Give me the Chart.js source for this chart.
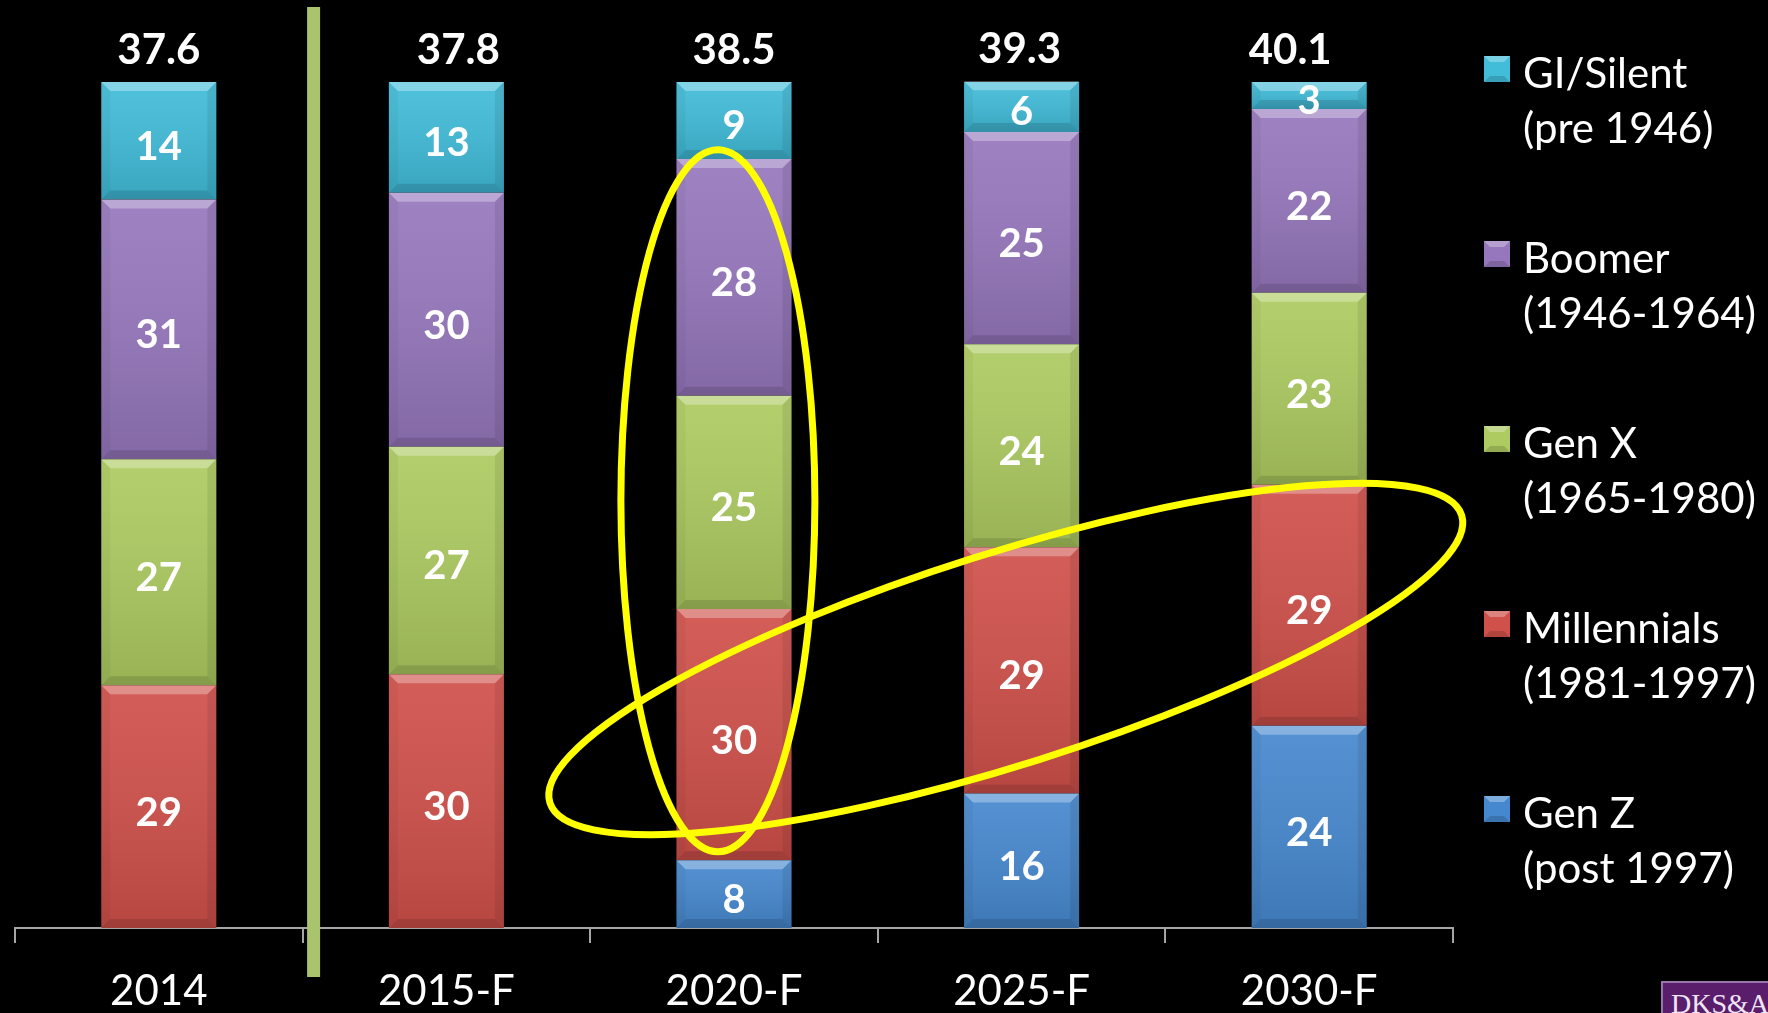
<!DOCTYPE html>
<html><head><meta charset="utf-8">
<script src="https://cdn.jsdelivr.net/npm/chart.js@4.4.1/dist/chart.umd.min.js"></script>
<style>
html,body{margin:0;padding:0;background:#000;overflow:hidden;}
#wrap{position:relative;width:1768px;height:1013px;}
canvas{display:block;}
#logo{position:absolute;left:1661px;top:981px;width:120px;height:40px;background:#5a1d6c;border:2px solid #9a74ad;box-sizing:border-box;color:#efe6f4;font-family:"Liberation Serif","DejaVu Serif",serif;font-size:28px;line-height:42px;padding-left:8px;white-space:nowrap;overflow:hidden;}
</style></head><body>
<div id="wrap"><canvas id="c" width="1768" height="1013"></canvas><div id="logo">DKS&amp;A</div></div>
<script>
// ---- data ----
const categories = ['2014', '2015-F', '2020-F', '2025-F', '2030-F'];
const genZ        = [null, null, 8.0, 15.9, 23.9];
const millennials = [28.7, 30.0, 29.7, 29.1, 28.5];
const genX        = [26.7, 26.9, 25.2, 24.0, 22.7];
const boomer      = [30.7, 30.0, 28.0, 25.1, 21.7];
const giSilent    = [13.9, 13.1, 9.1, 6.0, 3.2];
const totalLabels = ['37.6', '37.8', '38.5', '39.3', '40.1'];
const seriesNames = ['Gen Z', 'Millennials', 'Gen X', 'Boomer', 'GI/Silent'];
const seriesSubtitles = ['(post 1997)', '(1981-1997)', '(1965-1980)', '(1946-1964)', '(pre 1946)'];

const FONT = 'Lato, "Open Sans", "DejaVu Sans", sans-serif';
const colors = ['#4688cf', '#d0504a', '#adcb60', '#9677bd', '#41bcd9'];
const seriesValues = [genZ, millennials, genX, boomer, giSilent];

const datasets = seriesValues.map((vals, i) => ({
  label: seriesNames[i],
  data: vals,
  backgroundColor: colors[i],
  borderWidth: 0,
  categoryPercentage: 0.8,
  barPercentage: 0.5
}));

const bgPlugin = {
  id: 'bg',
  beforeDraw(chart) {
    const c = chart.ctx;
    c.save(); c.fillStyle = '#000'; c.fillRect(0, 0, chart.width, chart.height); c.restore();
  }
};

const bevelLabelPlugin = {
  id: 'bevelLabels',
  afterDatasetsDraw(chart) {
    const c = chart.ctx;
    c.save();
    chart.data.datasets.forEach((ds, di) => {
      const meta = chart.getDatasetMeta(di);
      meta.data.forEach((el, i) => {
        const v = ds.data[i];
        if (v === null || v === undefined) return;
        const p = el.getProps(['x', 'y', 'base', 'width'], true);
        const x0 = p.x - p.width / 2, x1 = p.x + p.width / 2;
        const top = Math.min(p.y, p.base), bot = Math.max(p.y, p.base);
        const h = bot - top, d = Math.min(9, h / 2);
        // body gradient
        const g = c.createLinearGradient(0, top, 0, bot);
        g.addColorStop(0, 'rgba(255,255,255,0.08)');
        g.addColorStop(1, 'rgba(0,0,0,0.12)');
        c.fillStyle = g; c.fillRect(x0, top, p.width, h);
        // top bevel
        c.fillStyle = 'rgba(255,255,255,0.30)';
        c.beginPath(); c.moveTo(x0, top); c.lineTo(x1, top); c.lineTo(x1 - d, top + d); c.lineTo(x0 + d, top + d); c.closePath(); c.fill();
        // bottom bevel
        c.fillStyle = 'rgba(0,0,0,0.12)';
        c.beginPath(); c.moveTo(x0, bot); c.lineTo(x1, bot); c.lineTo(x1 - d, bot - d); c.lineTo(x0 + d, bot - d); c.closePath(); c.fill();
        // side bevels
        c.fillStyle = 'rgba(0,0,0,0.04)';
        c.beginPath(); c.moveTo(x0, top); c.lineTo(x0 + d, top + d); c.lineTo(x0 + d, bot - d); c.lineTo(x0, bot); c.closePath(); c.fill();
        c.fillStyle = 'rgba(0,0,0,0.08)';
        c.beginPath(); c.moveTo(x1, top); c.lineTo(x1 - d, top + d); c.lineTo(x1 - d, bot - d); c.lineTo(x1, bot); c.closePath(); c.fill();
        // value label
        c.fillStyle = '#ffffff';
        c.font = 'bold 40px ' + FONT;
        c.textAlign = 'center'; c.textBaseline = 'middle';
        c.fillText(String(Math.round(v)), p.x, (top + bot) / 2 + 6);
      });
    });
    c.restore();
  }
};

const overlayPlugin = {
  id: 'overlay',
  afterDraw(chart, args, opts) {
    const c = chart.ctx;
    const xs = chart.scales.x, ys = chart.scales.y;
    c.save();
    // separator line between 2014 and forecasts
    const boundary = (xs.getPixelForValue(0) + xs.getPixelForValue(1)) / 2;
    c.fillStyle = '#a9c46c';
    c.fillRect(boundary + 4.5, 7, 13, 970);

    // totals above bars
    c.fillStyle = '#ffffff';
    c.font = 'bold 42px ' + FONT;
    c.textAlign = 'center'; c.textBaseline = 'middle';
    categories.forEach((cat, i) => {
      let sum = 0;
      seriesValues.forEach(s => { sum += (s[i] || 0); });
      const x = xs.getPixelForValue(i) + (opts.totalShift[i] || 0);
      c.fillText(totalLabels[i], x, ys.getPixelForValue(sum) - 32);
    });

    // legend (top to bottom = reverse stacking order)
    c.textAlign = 'left'; c.textBaseline = 'alphabetic';
    c.font = '42px ' + FONT;
    const order = [4, 3, 2, 1, 0];
    order.forEach((di, k) => {
      const base = opts.legendTop + k * opts.legendGap;
      const col = chart.data.datasets[di].backgroundColor;
      const mx = opts.legendX, my = base - 32, ms = 26;
      c.fillStyle = col; c.fillRect(mx, my, ms, ms);
      c.fillStyle = 'rgba(255,255,255,0.3)';
      c.beginPath(); c.moveTo(mx, my); c.lineTo(mx + ms, my); c.lineTo(mx + ms - 6, my + 6); c.lineTo(mx + 6, my + 6); c.closePath(); c.fill();
      c.fillStyle = 'rgba(0,0,0,0.15)';
      c.beginPath(); c.moveTo(mx, my + ms); c.lineTo(mx + ms, my + ms); c.lineTo(mx + ms - 6, my + ms - 6); c.lineTo(mx + 6, my + ms - 6); c.closePath(); c.fill();
      c.fillStyle = '#ffffff';
      c.fillText(chart.data.datasets[di].label, opts.legendX + 39, base);
      c.fillText(seriesSubtitles[di], opts.legendX + 39, base + 55);
    });

    // highlight ellipses
    c.strokeStyle = '#ffff00';
    c.lineWidth = 7;
    opts.ellipses.forEach(e => {
      const cx = xs.getPixelForValue(e.cat), cy = ys.getPixelForValue(e.val);
      c.beginPath();
      c.ellipse(cx, cy, e.rx, e.ry, e.rot * Math.PI / 180, 0, Math.PI * 2);
      c.stroke();
    });
    c.restore();
  }
};

new Chart(document.getElementById('c'), {
  type: 'bar',
  data: { labels: categories, datasets },
  options: {
    responsive: false,
    animation: false,
    layout: { padding: { left: 15, right: 315, top: 82, bottom: 0 } },
    plugins: {
      legend: { display: false },
      tooltip: { enabled: false },
      overlay: {
        totalShift: [0, 12, 0, -2, -19],
        legendX: 1484, legendTop: 88, legendGap: 185,
        ellipses: [
          { cat: 1.944, val: 50.5, rx: 97, ry: 351, rot: 0 },
          { cat: 2.945, val: 31.8, rx: 478, ry: 106, rot: -17.5 }
        ]
      }
    },
    scales: {
      x: {
        stacked: true,
        grid: { display: true, drawOnChartArea: false, drawTicks: true, tickLength: 15, color: '#a6a6a6', lineWidth: 2, offset: true },
        border: { display: true, color: '#a6a6a6', width: 2 },
        ticks: { color: '#ffffff', font: { family: FONT, size: 42, lineHeight: 1 }, padding: 27 },
        afterFit(s) { s.height = 85; }
      },
      y: { stacked: true, display: false, min: 0, max: 100 }
    }
  },
  plugins: [bgPlugin, bevelLabelPlugin, overlayPlugin]
});
</script>
</body></html>
